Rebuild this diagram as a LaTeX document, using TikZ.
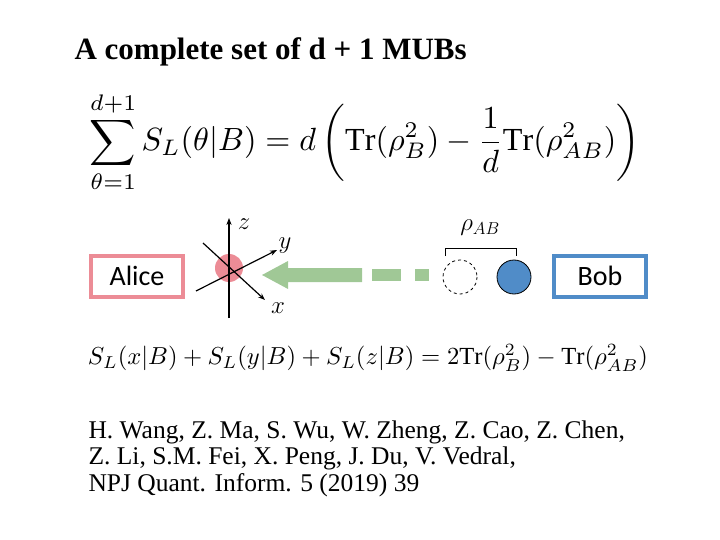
\documentclass[tikz,border=0pt]{standalone}
\usepackage{amsmath}
\usepackage{fontspec}
\setmainfont{Liberation Serif}
\newfontfamily\calib{Carlito}
\usetikzlibrary{arrows.meta}
\definecolor{apink}{RGB}{236,140,150}
\definecolor{bblue}{RGB}{80,140,200}
\definecolor{agreen}{RGB}{160,200,150}
\tikzset{pbox/.style={draw=#1,line width=4pt,minimum width=92pt,minimum height=41pt,font=\calib\fontsize{28}{30}\selectfont},
ax/.style={line width=1.2pt,-{Stealth[length=7pt]}},
lab/.style={font=\fontsize{24}{26}\selectfont}}
\begin{document}
\begin{tikzpicture}[x=1pt,y=-1pt]
\useasboundingbox (0,0) rectangle (720,540);
\node[anchor=west,font=\bfseries\fontsize{31}{33}\selectfont] (title) at (71,52) {A complete set of d + 1 MUBs};
\node (eq1) at (365,142) {\resizebox{550pt}{!}{$\displaystyle\sum_{\theta=1}^{d+1} S_L(\theta|B)=d\left(\mathrm{Tr}(\rho_B^2)-\frac{1}{d}\mathrm{Tr}(\rho_{AB}^2)\right)$}};
\node[pbox=apink] (alice) at (137,276) {Alice};
\node[pbox=bblue] (bob) at (600,276) {Bob};
\fill[apink] (229,268) circle (14);
\coordinate (o) at (229,268);
\coordinate (zb) at (229,318); \coordinate (zt) at (229,218);
\coordinate (yb) at (196,291); \coordinate (yt) at (277,250);
\coordinate (xb) at (203,243); \coordinate (xt) at (265,300);
\draw[ax] (zb) -- (zt);
\draw[ax] (yb) -- (yt);
\draw[ax] (xb) -- (xt);
\node[lab] (zl) at (244,224) {$z$};
\node[lab] (yl) at (285,246) {$y$};
\node[lab] (xl) at (278,308) {$x$};
\fill[agreen] (362,268) -- (288,268) -- (288,261) -- (262,275) -- (288,289) -- (288,282) -- (362,282) -- cycle;
\fill[agreen] (372,269) rectangle (401,281);
\fill[agreen] (415,269) rectangle (429,281);
\draw[dashed,line width=0.8pt] (460,277) circle (17);
\draw[fill=bblue,line width=0.8pt] (514,277) circle (17);
\draw[line width=1pt] (445,256) -- (445,248) -- (516,248) -- (516,256);
\node[lab] (rho) at (480,228) {$\rho_{AB}$};
\node (eq2) at (368,358) {\resizebox{560pt}{!}{$S_L(x|B)+S_L(y|B)+S_L(z|B)=2\mathrm{Tr}(\rho_B^2)-\mathrm{Tr}(\rho_{AB}^2)$}};
\node[anchor=north west,align=left,font=\fontsize{25.5}{26.5}\selectfont] (ref) at (85,417) {H. Wang, Z. Ma, S. Wu, W. Zheng, Z. Cao, Z. Chen,\\ Z. Li, S.M. Fei, X. Peng, J. Du, V. Vedral,\\ NPJ Quant. Inform. 5 (2019) 39};
\end{tikzpicture}
\end{document}
